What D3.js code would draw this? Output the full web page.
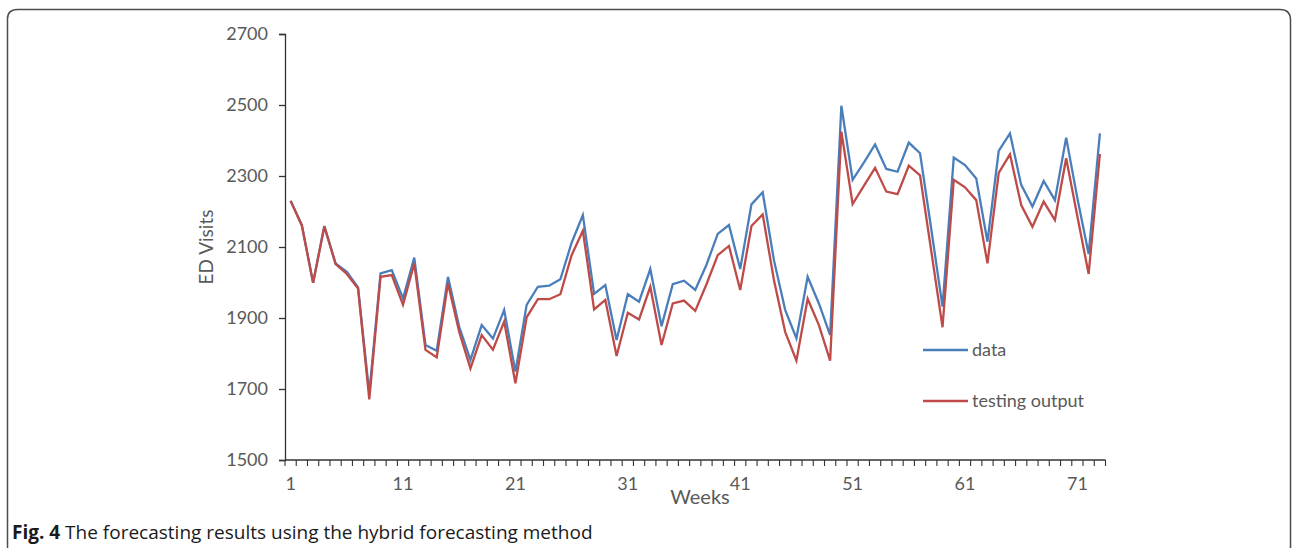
<!DOCTYPE html>
<html><head><meta charset="utf-8">
<script src="https://cdn.jsdelivr.net/npm/d3@7"></script>
<style>
html,body{margin:0;padding:0;background:#fff;}
svg{display:block;}
</style></head>
<body>
<svg id="chart" width="1292" height="548"></svg>
<script>
const weeks = d3.range(1, 74);
const dataValues = [2230,2162,1999,2159,2054,2030,1986,1688,2026,2035,1955,2070,1824,1808,2016,1875,1782,1880,1842,1923,1749,1937,1988,1991,2009,2112,2190,1968,1993,1838,1967,1946,2038,1877,1995,2005,1979,2050,2137,2162,2038,2220,2254,2063,1923,1843,2016,1941,1852,2498,2289,2338,2389,2320,2312,2394,2364,2150,1932,2352,2331,2293,2115,2371,2420,2275,2214,2286,2232,2408,2237,2080,2420];
const outputValues = [2230,2160,1999,2158,2052,2024,1983,1671,2016,2021,1937,2054,1810,1789,1998,1861,1758,1852,1811,1890,1716,1902,1953,1953,1967,2077,2146,1924,1951,1793,1915,1896,1988,1824,1941,1949,1920,1995,2077,2103,1979,2159,2192,2007,1861,1780,1954,1880,1780,2425,2221,2272,2323,2256,2249,2329,2302,2088,1874,2289,2268,2232,2054,2309,2361,2218,2157,2228,2176,2350,2186,2024,2362];
const yTicks = [1500,1700,1900,2100,2300,2500,2700];
const xTickLabels = [1,11,21,31,41,51,61,71];
const seriesNames = ["data","testing output"];
const seriesColors = ["#4a7ebb","#be4b48"];

const svg = d3.select("#chart");

// frame
svg.append("path")
  .attr("d","M7.5,548 L7.5,19 Q7.5,9.5 17.5,9.5 L1280,9.5 Q1290.5,9.5 1290.5,20 L1290.5,548")
  .attr("fill","none").attr("stroke","#4d4d4d").attr("stroke-width",1.5);

const x = d3.scaleBand().domain(weeks).range([285, 1105.5]).padding(0);
const y = d3.scaleLinear().domain([1500, 2700]).range([460, 34]);
const cx = d => x(d) + x.bandwidth()/2;

// y axis
const yAxis = svg.append("g").attr("transform","translate(285,0)")
  .call(d3.axisLeft(y).tickValues(yTicks).tickSize(6).tickPadding(11).tickFormat(d3.format("d")));
yAxis.select(".domain").attr("stroke","#333").attr("stroke-width",1.3);
yAxis.selectAll(".tick line").attr("stroke","#333").attr("stroke-width",1.3);
yAxis.selectAll("text").attr("font-family","Lato, sans-serif").attr("font-size",18).attr("fill","#595959");

// x axis with ticks at band edges
const xg = svg.append("g");
xg.append("line").attr("x1",285).attr("x2",x.range()[1]).attr("y1",460).attr("y2",460)
  .attr("stroke","#333").attr("stroke-width",1.3);
const edges = weeks.map(w => x(w)).concat([x.range()[1]]);
xg.selectAll("line.tk").data(edges).enter().append("line").attr("class","tk")
  .attr("x1",d=>d).attr("x2",d=>d).attr("y1",460).attr("y2",466)
  .attr("stroke","#333").attr("stroke-width",1.1);
xg.selectAll("text").data(xTickLabels).enter().append("text")
  .attr("x",d=>cx(d)).attr("y",490).attr("text-anchor","middle")
  .attr("font-family","Lato, sans-serif").attr("font-size",18).attr("fill","#595959")
  .text(d=>d);

// axis titles
svg.append("text").attr("transform","translate(213,247) rotate(-90)")
  .attr("text-anchor","middle").attr("font-family","Lato, sans-serif").attr("font-size",19)
  .attr("fill","#595959").text("ED Visits");
svg.append("text").attr("x",700).attr("y",504).attr("text-anchor","middle")
  .attr("font-family","Lato, sans-serif").attr("font-size",20).attr("fill","#595959").text("Weeks");

// lines
const line = d3.line().x((d,i)=>cx(weeks[i])).y(d=>y(d));
[dataValues, outputValues].forEach((vals, k) => {
  svg.append("path").datum(vals).attr("d", line)
    .attr("fill","none").attr("stroke",seriesColors[k]).attr("stroke-width",2.3)
    .attr("stroke-linejoin","miter");
});

// legend
const legY = [350, 401];
seriesNames.forEach((name,k)=>{
  svg.append("line").attr("x1",923).attr("x2",968).attr("y1",legY[k]).attr("y2",legY[k])
    .attr("stroke",seriesColors[k]).attr("stroke-width",2.3);
  svg.append("text").attr("x",972).attr("y",legY[k]+6)
    .attr("font-family","Lato, sans-serif").attr("font-size",18).attr("fill","#595959").text(name);
});

// caption
const cap = svg.append("text").attr("x",12).attr("y",539)
  .attr("font-family","'Open Sans', sans-serif").attr("font-size",19).attr("fill","#1a1a1a");
cap.append("tspan").attr("font-weight","bold").text("Fig. 4");
cap.append("tspan").text(" The forecasting results using the hybrid forecasting method");
</script>
</body></html>
